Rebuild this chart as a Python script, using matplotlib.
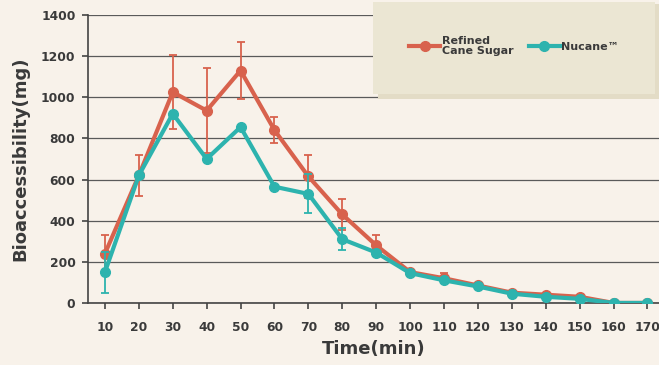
import matplotlib
matplotlib.use("Agg")
import matplotlib.pyplot as plt
from matplotlib.patches import Rectangle
from matplotlib.lines import Line2D

time_min = [10, 20, 30, 40, 50, 60, 70, 80, 90, 100, 110, 120, 130, 140, 150, 160, 170]
refined = [240, 620, 1025, 935, 1130, 840, 615, 430, 280, 150, 120, 85, 50, 40, 30, 0, 0]
refined_err = [90, 100, 180, 205, 140, 62, 105, 75, 50, 0, 25, 0, 0, 0, 0, 0, 0]
nucane = [150, 620, 920, 700, 855, 565, 530, 310, 245, 145, 110, 80, 45, 30, 20, 0, 0]
nucane_err = [100, 0, 0, 0, 0, 0, 95, 55, 0, 0, 0, 0, 0, 0, 0, 0, 0]
yticks = [0, 200, 400, 600, 800, 1000, 1200, 1400]

RED = "#d8624d"
TEAL = "#2db3ae"
BG = "#f8f2ea"
TXT = "#3a3a3a"

plt.rcParams['font.family'] = ['DejaVu Sans']

fig = plt.figure(figsize=(6.59, 3.65), dpi=100, facecolor=BG)
ax = fig.add_axes([0.1335, 0.170, 0.8665, 0.789])
ax.set_facecolor(BG)

for y in yticks:
    ax.axhline(y, color="#5a5a5a", lw=0.9, zorder=1)

ax.errorbar(time_min, refined, yerr=refined_err, color=RED, lw=3, marker='o', ms=7,
            mfc=RED, mec=RED, ecolor=RED, elinewidth=1.3, capsize=3, capthick=1.3, zorder=3)
ax.errorbar(time_min, nucane, yerr=nucane_err, color=TEAL, lw=3, marker='o', ms=7,
            mfc=TEAL, mec=TEAL, ecolor=TEAL, elinewidth=1.3, capsize=3, capthick=1.3, zorder=4)

ax.set_xlim(5, 173.4)
ax.set_ylim(0, 1400)
ax.set_xticks(time_min)
ax.set_yticks(yticks)
for s in ['top', 'right']:
    ax.spines[s].set_visible(False)
for s in ['left', 'bottom']:
    ax.spines[s].set_color("#444444")
    ax.spines[s].set_linewidth(1.2)
ax.tick_params(axis='both', colors="#444444", labelcolor=TXT, labelsize=8.8, width=1.2, length=4)
ax.tick_params(axis='x', pad=9)
ax.tick_params(axis='y', pad=5)
for lab in ax.get_xticklabels() + ax.get_yticklabels():
    lab.set_fontweight('bold')
ax.set_xlabel("Time(min)", fontsize=13, fontweight='bold', color=TXT, labelpad=4)
ax.set_ylabel("Bioaccessibility(mg)", fontsize=13, fontweight='bold', color=TXT, labelpad=8)

# legend box
fig.patches.append(Rectangle((378 / 659, 1 - 99 / 365), 281 / 659, 95 / 365,
                             transform=fig.transFigure, facecolor="#e3dcc6", edgecolor='none', zorder=5))
fig.patches.append(Rectangle((373 / 659, 1 - 94 / 365), 282 / 659, 92 / 365,
                             transform=fig.transFigure, facecolor="#ebe6d3", edgecolor='none', zorder=6))
handles = [Line2D([], [], color=RED, lw=3, marker='o', ms=7),
           Line2D([], [], color=TEAL, lw=3, marker='o', ms=7)]
leg = fig.legend(handles, ["Refined\nCane Sugar", "Nucane\u2122"], loc='center',
                 bbox_to_anchor=(514 / 659, 1 - 46 / 365), ncol=2, frameon=False,
                 handlelength=2.8, handletextpad=0.1, columnspacing=1.4,
                 prop={'weight': 'bold', 'size': 8})
for t in leg.get_texts():
    t.set_color(TXT)
    t.set_linespacing(0.9)
leg.set_zorder(7)

fig.savefig("out.png", dpi=100, facecolor=BG)
